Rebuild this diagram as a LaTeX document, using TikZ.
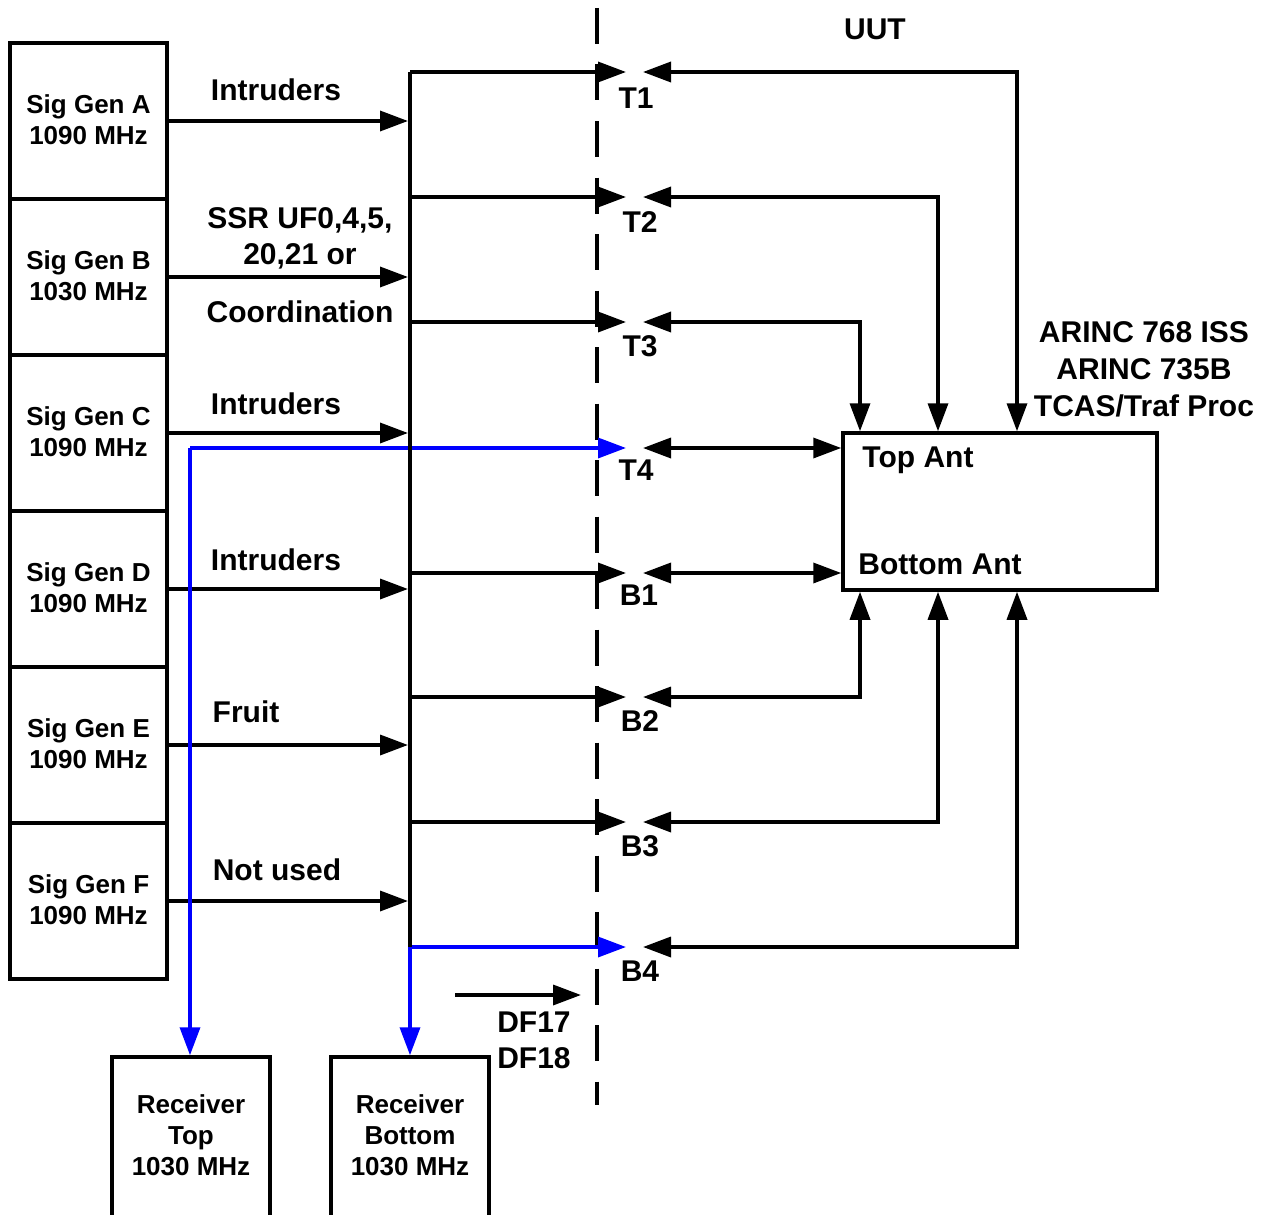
\documentclass[tikz,border=0pt]{standalone}
\usepackage{fontspec}
\setmainfont{Liberation Sans}
\usetikzlibrary{arrows.meta}
\definecolor{sigblue}{RGB}{0,0,255}
\begin{document}
\begin{tikzpicture}[x=1pt,y=-1pt,
  line width=3.5pt,
  tip/.style={-{Triangle[length=28pt,width=20pt]}},
  dtip/.style={{Triangle[length=28pt,width=20pt]}-{Triangle[length=28pt,width=20pt]}},
  blk/.style={draw, line width=3.5pt, inner sep=0pt, align=center, font=\fontsize{26}{31}\selectfont\bfseries},
  sgbox/.style={blk, minimum width=157pt, minimum height=156pt, text depth=3pt},
  rxbox/.style={blk, minimum width=158pt, minimum height=162pt, text depth=6pt},
  lab/.style={inner sep=0pt, anchor=base, font=\fontsize{30}{36}\selectfont\bfseries},
  bl/.style={draw=sigblue},
  dashline/.style={line width=4pt, dash pattern=on 36pt off 20.5pt},
]
\clip (0,0) rectangle (1270,1215);
\fill[white] (0,0) rectangle (1270,1215);

% dashed UUT boundary
\coordinate (dashtop) at (597,8);
\coordinate (dashbot) at (597,1105);
\draw[dashline] (dashtop) -- (dashbot);

% signal generators
\node[sgbox] (sgA) at (88.5,121) {Sig Gen A\\1090 MHz};
\node[sgbox] (sgB) at (88.5,277) {Sig Gen B\\1030 MHz};
\node[sgbox] (sgC) at (88.5,433) {Sig Gen C\\1090 MHz};
\node[sgbox] (sgD) at (88.5,589) {Sig Gen D\\1090 MHz};
\node[sgbox] (sgE) at (88.5,745) {Sig Gen E\\1090 MHz};
\node[sgbox] (sgF) at (88.5,901) {Sig Gen F\\1090 MHz};

% receivers
\node[rxbox] (rxT) at (191,1138) {Receiver\\Top\\1030 MHz};
\node[rxbox] (rxB) at (410,1138) {Receiver\\Bottom\\1030 MHz};

% UUT box
\node[draw, line width=3.5pt, minimum width=314pt, minimum height=157pt, inner sep=0pt] (uut) at (1000,511.5) {};
\node[lab] (topant) at (918,467) {Top Ant};
\node[lab] (botant) at (940,574) {Bottom Ant};

% bus coordinates
\coordinate (bA) at (408,121);
\coordinate (bB) at (408,277);
\coordinate (bC) at (408,433);
\coordinate (bD) at (408,589);
\coordinate (bE) at (408,745);
\coordinate (bF) at (408,901);

\coordinate (jT1) at (410,72);
\coordinate (jT2) at (410,197);
\coordinate (jT3) at (410,322);
\coordinate (jB1) at (410,573);
\coordinate (jB2) at (410,697);
\coordinate (jB3) at (410,822);
\coordinate (jB4) at (410,947);
\coordinate (blT) at (190,448);

\foreach \n/\y in {T1/72,T2/197,T3/322,T4/448,B1/573,B2/697,B3/822,B4/947}{
  \coordinate (in\n) at (626,\y);
  \coordinate (out\n) at (643,\y);
}
\coordinate (cA) at (1017,0);
\coordinate (cB) at (938,0);
\coordinate (cC) at (860,0);

% sig gen to bus
\draw[tip] (sgA.east) -- (bA);
\draw[tip] (sgB.east) -- (bB);
\draw[tip] (sgC.east) -- (bC);
\draw[tip] (sgD.east) -- (bD);
\draw[tip] (sgE.east) -- (bE);
\draw[tip] (sgF.east) -- (bF);

% blue paths
\draw[bl, tip] (blT) -- (inT4);
\draw[bl, tip] (blT) -- (blT |- rxT.north);
\draw[bl, tip] (jB4) -- (inB4);
\draw[bl, tip] (jB4) -- (rxB.north);

% bus
\draw (jT1) -- (jB4);
\draw[tip] (jT1) -- (inT1);
\draw[tip] (jT2) -- (inT2);
\draw[tip] (jT3) -- (inT3);
\draw[tip] (jB1) -- (inB1);
\draw[tip] (jB2) -- (inB2);
\draw[tip] (jB3) -- (inB3);

% UUT side
\draw[dtip] (outT1) -| (cA |- uut.north);
\draw[dtip] (outT2) -| (cB |- uut.north);
\draw[dtip] (outT3) -| (cC |- uut.north);
\draw[dtip] (outT4) -- (uut.west |- outT4);
\draw[dtip] (outB1) -- (uut.west |- outB1);
\draw[dtip] (outB2) -| (cC |- uut.south);
\draw[dtip] (outB3) -| (cB |- uut.south);
\draw[dtip] (outB4) -| (cA |- uut.south);

% DF17/18 arrow
\coordinate (df1) at (455,995);
\coordinate (df2) at (581,995);
\draw[tip] (df1) -- (df2);

% labels
\node[lab] (l1) at (276,100) {Intruders};
\node[lab] (l2a) at (300,228) {SSR UF0,4,5,};
\node[lab] (l2b) at (300,264) {20,21 or};
\node[lab] (l2c) at (300,322) {Coordination};
\node[lab] (l3) at (276,414) {Intruders};
\node[lab] (l4) at (276,570) {Intruders};
\node[lab] (l5) at (246,722) {Fruit};
\node[lab] (l6) at (277,880) {Not used};

\node[lab] (tT1) at (636,108) {T1};
\node[lab] (tT2) at (640,232) {T2};
\node[lab] (tT3) at (640,356) {T3};
\node[lab] (tT4) at (636,480) {T4};
\node[lab] (tB1) at (639,605) {B1};
\node[lab] (tB2) at (640,731) {B2};
\node[lab] (tB3) at (640,856) {B3};
\node[lab] (tB4) at (640,981) {B4};

\node[lab] (uutl) at (875,40) {UUT};
\node[lab] (ar1) at (1144,342) {ARINC 768 ISS};
\node[lab] (ar2) at (1144,379) {ARINC 735B};
\node[lab] (ar3) at (1144,416) {TCAS/Traf Proc};

\node[lab] (df17) at (534,1032) {DF17};
\node[lab] (df18) at (534,1068) {DF18};
\end{tikzpicture}
\end{document}
